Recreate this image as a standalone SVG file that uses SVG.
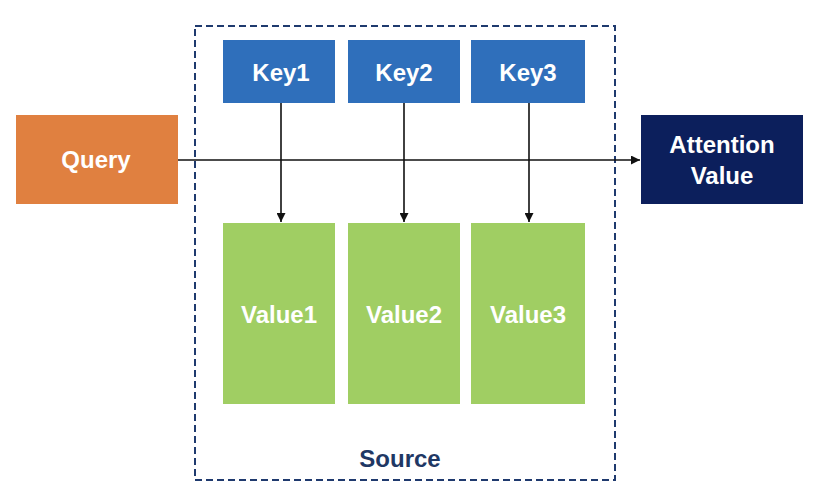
<svg xmlns="http://www.w3.org/2000/svg" width="814" height="498" viewBox="0 0 814 498">
<style>
.lbl{font-family:"Liberation Sans",Arial,sans-serif;font-weight:bold;font-size:24px;fill:#fff;text-anchor:middle}
.key{fill:#2F6FBB}
.val{fill:#A0CE63}
.conn{stroke:#111;stroke-width:1.6;fill:none}
</style>
<defs>
<marker id="ah" viewBox="0 0 10 10" refX="10" refY="5" markerWidth="5" markerHeight="5" orient="auto" markerUnits="userSpaceOnUse">
<path d="M0,0 L10,5 L0,10 z" fill="#111"/>
</marker>
<marker id="ah2" viewBox="0 0 10 10" refX="10" refY="5" markerWidth="9" markerHeight="9" orient="auto" markerUnits="userSpaceOnUse">
<path d="M0,0 L10,5 L0,10 z" fill="#111"/>
</marker>
</defs>
<g id="source">
<rect x="195" y="26" width="420" height="454" fill="none" stroke="#1F3A6E" stroke-width="2" stroke-dasharray="7,4"/>
<text x="400" y="467" style="font-family:'Liberation Sans',Arial,sans-serif;font-weight:bold;font-size:24px;fill:#1F3864;text-anchor:middle">Source</text>
</g>
<g id="query">
<rect x="16" y="115" width="162" height="89" fill="#E08040"/>
<text class="lbl" x="96" y="168">Query</text>
</g>
<g id="attention">
<rect x="641" y="115" width="162" height="89" fill="#0C1F5C"/>
<text class="lbl" x="722" y="153">Attention</text>
<text class="lbl" x="722" y="184">Value</text>
</g>
<g id="key1"><rect class="key" x="223" y="40" width="112" height="63"/><text class="lbl" x="281" y="81">Key1</text></g>
<g id="key2"><rect class="key" x="348" y="40" width="112" height="63"/><text class="lbl" x="404" y="81">Key2</text></g>
<g id="key3"><rect class="key" x="471" y="40" width="114" height="63"/><text class="lbl" x="528" y="81">Key3</text></g>
<g id="value1"><rect class="val" x="223" y="223" width="112" height="181"/><text class="lbl" x="279" y="323">Value1</text></g>
<g id="value2"><rect class="val" x="348" y="223" width="112" height="181"/><text class="lbl" x="404" y="323">Value2</text></g>
<g id="value3"><rect class="val" x="471" y="223" width="114" height="181"/><text class="lbl" x="528" y="323">Value3</text></g>
<g id="connectors">
<line class="conn" x1="178" y1="160" x2="640" y2="160" marker-end="url(#ah2)"/>
<line class="conn" x1="281" y1="103" x2="281" y2="222" marker-end="url(#ah2)"/>
<line class="conn" x1="404" y1="103" x2="404" y2="222" marker-end="url(#ah2)"/>
<line class="conn" x1="529" y1="103" x2="529" y2="222" marker-end="url(#ah2)"/>
</g>
</svg>
